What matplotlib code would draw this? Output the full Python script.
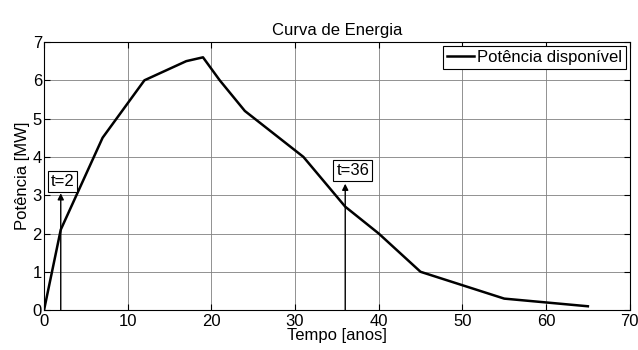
import matplotlib
matplotlib.use("Agg")
import matplotlib.pyplot as plt

plt.rcParams['font.family'] = ['Liberation Sans', 'DejaVu Sans']

tempo = [0, 2, 7, 12, 17, 19, 21, 24, 31, 36, 40, 45, 55, 65]
potencia = [0, 2.1, 4.5, 6.0, 6.5, 6.6, 6.0, 5.2, 4.0, 2.7, 2.0, 1.0, 0.3, 0.1]
marcas_t = [2, 36]
marcas_topo = [3.05, 3.3]
marcas_txt = ["t=2", "t=36"]
txt_pos = [(2.2, 3.37), (36.9, 3.65)]

fig = plt.figure(figsize=(6.38, 3.5), dpi=100)
ax = fig.add_axes([0.069, 0.114, 0.918, 0.766])

ax.plot(tempo, potencia, color='black', lw=1.8, label='Potência disponível')

for t, top, txt, (tx, ty) in zip(marcas_t, marcas_topo, marcas_txt, txt_pos):
    ax.annotate('', xy=(t, top), xytext=(t, 0),
                arrowprops=dict(arrowstyle='-|>', color='black', lw=1.0,
                                mutation_scale=9, shrinkA=0, shrinkB=0))
    ax.text(tx, ty, txt, ha='center', va='center', fontsize=12,
            bbox=dict(boxstyle='square,pad=0.18', fc='white', ec='black', lw=0.8))

ax.set_xlim(0, 70)
ax.set_ylim(0, 7)
ax.set_xticks(range(0, 71, 10))
ax.set_yticks(range(0, 8))
ax.grid(True, color='#808080', lw=0.6)
ax.tick_params(direction='in', top=True, right=True, labelsize=12, length=4)
ax.tick_params(axis='x', pad=2.5)
ax.tick_params(axis='y', pad=1.5)
for s in ax.spines.values():
    s.set_linewidth(0.8)

ax.set_title('Curva de Energia', fontsize=12, pad=5)
ax.set_xlabel('Tempo [anos]', fontsize=12, labelpad=-0.5)
ax.set_ylabel('Potência [MW]', fontsize=12, labelpad=2)

leg = ax.legend(loc='upper right', fontsize=12, frameon=True, fancybox=False,
                borderpad=0.22, handlelength=1.6, handletextpad=0.2,
                borderaxespad=0.25)
leg.get_frame().set_edgecolor('black')
leg.get_frame().set_linewidth(0.8)
leg.get_frame().set_alpha(1)

fig.savefig('out.png', dpi=100)
